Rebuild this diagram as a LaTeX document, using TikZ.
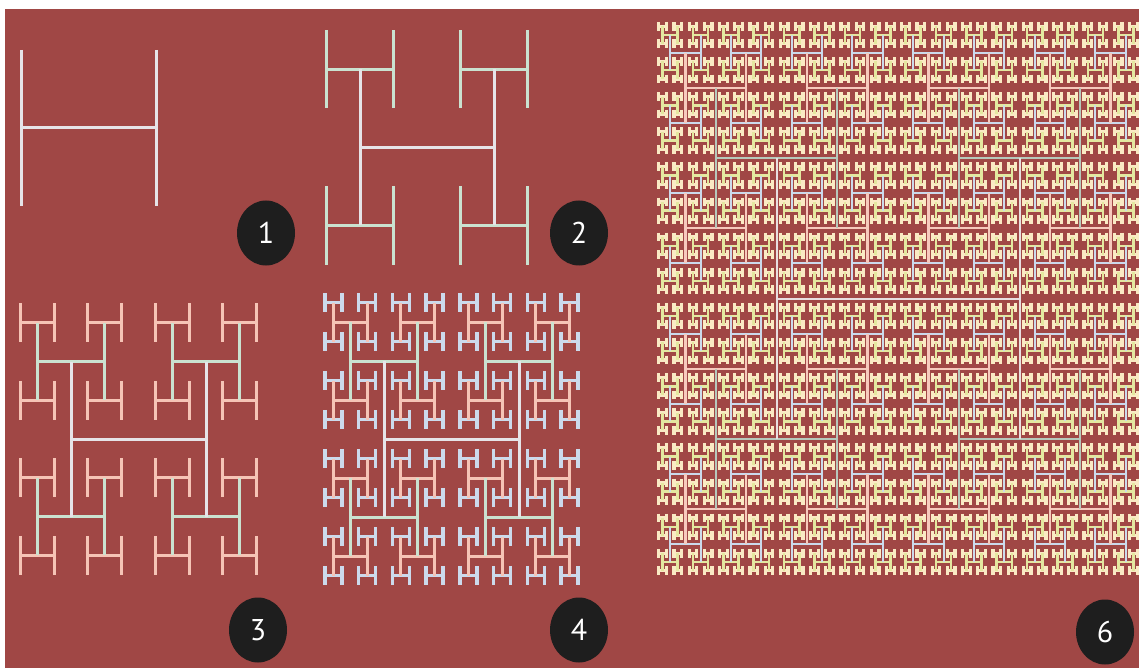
\documentclass[tikz,border=0pt]{standalone}
\usepackage{fontspec}
\newfontfamily\labfont{PT Sans}
\usetikzlibrary{shapes.geometric}
\definecolor{bg}{RGB}{160,71,69}
\definecolor{cA}{RGB}{230,228,232}
\definecolor{cB}{RGB}{202,226,208}
\definecolor{cC}{RGB}{246,196,182}
\definecolor{cD}{RGB}{204,218,236}
\definecolor{cE}{RGB}{228,232,160}
\definecolor{cF}{RGB}{250,234,196}
\definecolor{dark}{RGB}{30,30,30}
\tikzset{
  p0/.style={draw=cA,line width=3pt},
  p1/.style={draw=cB,line width=3pt},
  p2/.style={draw=cC,line width=3pt},
  p3/.style={draw=cD,line width=3.4pt},
  q0/.style={draw=cA!85!cC,line width=2pt},
  q1/.style={draw=cB!75!gray,line width=2pt},
  q2/.style={draw=cC!90!white,line width=2.4pt},
  q3/.style={draw=cD,line width=2pt},
  q4/.style={draw=cE,line width=2.6pt},
  q5/.style={draw=cF,line width=3.2pt},
  lab/.style={ellipse,fill=dark,minimum width=58pt,minimum height=65pt,inner sep=0pt,
    text=white,font=\labfont\fontsize{30}{30}\selectfont}
}
% draw only the H's of level #6 in a tree rooted at level #5
% #1 cx, #2 cy, #3 width, #4 height, #5 current level, #6 target level, #7 style prefix
\newcommand\HTL[7]{%
  \begingroup
  \pgfmathsetmacro\hx{#3/2}\pgfmathsetmacro\hy{#4/2}%
  \pgfmathsetmacro\ax{#1-\hx}\pgfmathsetmacro\bx{#1+\hx}%
  \pgfmathsetmacro\ay{#2-\hy}\pgfmathsetmacro\by{#2+\hy}%
  \ifnum#5=#6\relax
    \draw[#7#6] (\ax,#2) -- (\bx,#2);
    \draw[#7#6] (\ax,\ay) -- (\ax,\by);
    \draw[#7#6] (\bx,\ay) -- (\bx,\by);
  \else
    \pgfmathtruncatemacro\nl{#5+1}%
    \edef\myrec{%
      \noexpand\HTL{\ax}{\ay}{\hx}{\hy}{\nl}{#6}{#7}%
      \noexpand\HTL{\ax}{\by}{\hx}{\hy}{\nl}{#6}{#7}%
      \noexpand\HTL{\bx}{\ay}{\hx}{\hy}{\nl}{#6}{#7}%
      \noexpand\HTL{\bx}{\by}{\hx}{\hy}{\nl}{#6}{#7}}%
    \myrec
  \fi
  \endgroup}
% whole tree, deepest level first
\newcommand\HTree[6]{%
  \foreach \lv in {#5,...,0}{\HTL{#1}{#2}{#3}{#4}{0}{\lv}{#6}}}
\begin{document}
\begin{tikzpicture}[x=1pt,y=-1pt]
\useasboundingbox (0,0) rectangle (1139,668);
\fill[white] (0,0) rectangle (1139,668);
\fill[bg] (5,9) rectangle (1139,668);
% panels 1-4
\HTree{88.5}{128}{135}{156}{0}{p}
\HTree{427}{147.5}{134}{156}{1}{p}
\HTree{138.5}{439}{135}{155}{2}{p}
\HTree{451.5}{439}{135}{156}{3}{p}
% panel 6
\begin{scope}
\clip (5,9) rectangle (1139,668);
\HTree{898}{298.5}{243}{281}{5}{q}
\end{scope}
% labels
\node[lab] (n1) at (266,233) {1};
\node[lab] (n2) at (579,233) {2};
\node[lab] (n3) at (258,630) {3};
\node[lab] (n4) at (579,630) {4};
\node[lab] (n6) at (1105,632) {6};
\end{tikzpicture}
\end{document}
